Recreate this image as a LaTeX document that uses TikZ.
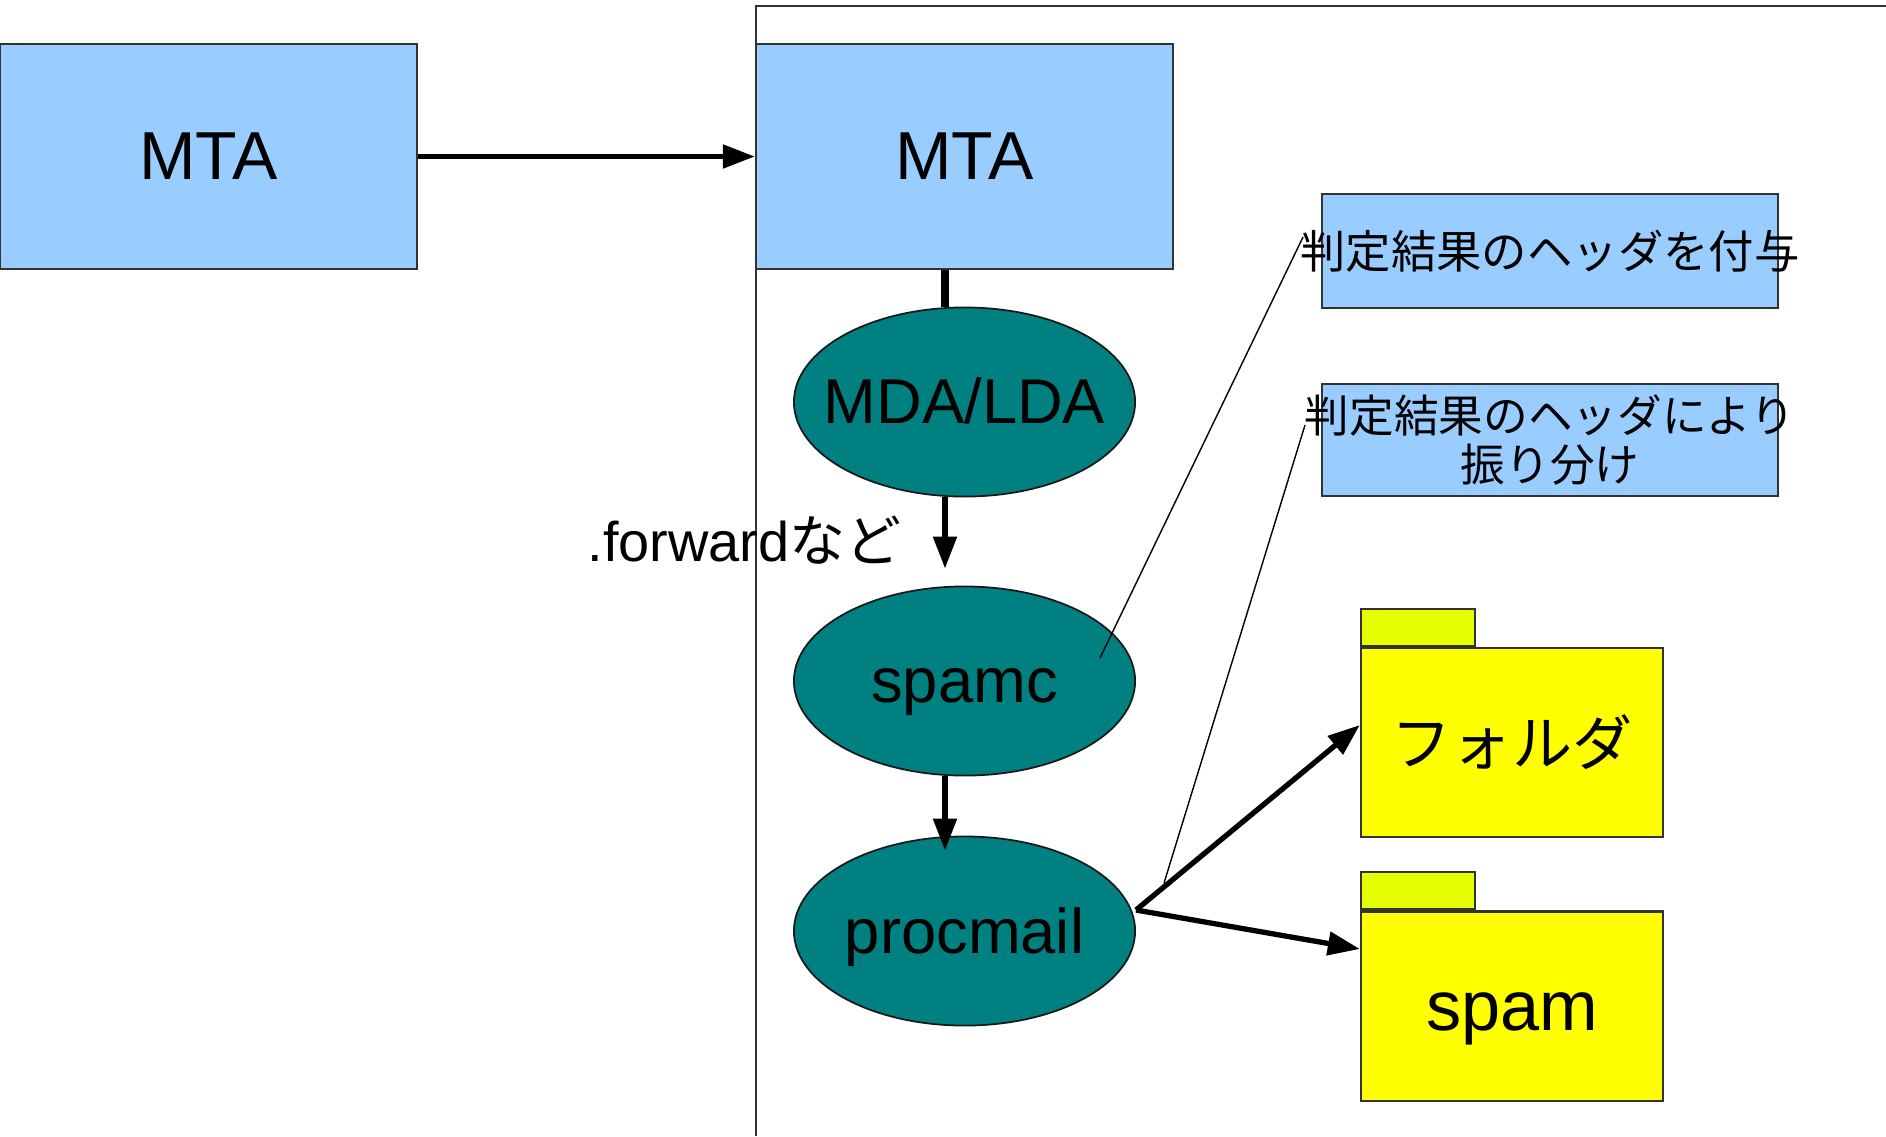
\documentclass[tikz,border=0pt]{standalone}
\usepackage{fontspec}
\setmainfont{Liberation Sans}
\newfontfamily\jpfont{Noto Sans CJK JP}
\usepackage{tikz}
\usetikzlibrary{shapes.geometric,arrows.meta,positioning}
\definecolor{mtablue}{RGB}{153,204,255}
\definecolor{agentteal}{RGB}{0,128,128}
\definecolor{folderyellow}{RGB}{255,255,0}
\definecolor{tabyellow}{RGB}{230,255,0}

\begin{document}
\begin{tikzpicture}[x=0.01cm, y=-0.01cm,
    mtabox/.style={rectangle, draw=black!80, fill=mtablue, line width=0.6pt,
        minimum width=4.17cm, minimum height=2.25cm, inner sep=0pt,
        font=\fontsize{19.3}{23}\selectfont},
    agent/.style={ellipse, draw=black!90, fill=agentteal, line width=0.5pt,
        minimum width=3.41cm, minimum height=1.89cm, inner sep=0pt,
        text height=16.3pt, text depth=3.8pt,
        font=\fontsize{18}{22}\selectfont},
    notebox/.style={rectangle, draw=black!80, fill=mtablue, line width=0.6pt,
        minimum width=4.56cm, minimum height=1.14cm, inner sep=0pt, align=center,
        font=\jpfont\fontsize{12.9}{14.2}\selectfont},
    folderbody/.style={rectangle, draw=black!80, fill=folderyellow, line width=0.6pt,
        minimum width=3.02cm, minimum height=1.89cm, inner sep=0pt},
    foldertab/.style={rectangle, draw=black!80, fill=tabyellow, line width=0.6pt,
        minimum width=1.14cm, minimum height=0.37cm, inner sep=0pt},
    flow/.style={-{Triangle[length=0.32cm,width=0.23cm]}, line width=1.5pt},
    leader/.style={line width=0.4pt}
]
\useasboundingbox (0,0) rectangle (1886,1136);

% server frame
\draw[line width=0.6pt, black!80] (756,1136) -- (756,6) -- (1886,6);

% MTAs
\node[mtabox] (mtaout) at (208.5,156.5) {MTA};
\node[mtabox] (mtain) at (964.5,156.5) {MTA};

% delivery chain
\node[agent] (mda) at (964.5,402) {\makebox[2cm]{MDA/LDA}};
\node[agent] (spamc) at (964.5,681) {spamc};
\node[agent] (procmail) at (964.5,931) {procmail};
\node[font=\fontsize{15.9}{19}\selectfont, anchor=base west, inner sep=0pt]
    (fwd) at (587,561) {.forward{\jpfont など}};

% notes
\node[notebox] (note1) at (1550,251) {\makebox[4.56cm]{判定結果のヘッダを付与}};
\node[notebox, minimum height=1.12cm, font=\jpfont\fontsize{12.7}{14.2}\selectfont]
    (note2) at (1550,440) {\makebox[4.56cm]{判定結果のヘッダにより}\\振り分け};

% folders
\node[folderbody, font=\jpfont\fontsize{17.1}{20}\selectfont] (inbox) at (1512,742.5) {フォルダ};
\node[foldertab, anchor=south west] (inboxtab) at (inbox.north west) {};
\node[folderbody, font=\fontsize{20}{24}\selectfont, text height=18.1pt, text depth=4.2pt]
    (spambox) at (1512,1006) {spam};
\node[foldertab, anchor=south west] (spamtab) at (spambox.north west) {};

% connectors
\draw[flow] (mtaout.east) -- (mtain.west);
\draw[line width=2pt] ([xshift=-0.195cm]mtain.south) -- ([xshift=-0.195cm]mda.north);
\draw[flow] ([xshift=-0.195cm]mda.south) -- ([xshift=-0.195cm,yshift=0.17cm]spamc.north);
\draw[flow] ([xshift=-0.195cm]spamc.south) -- ([xshift=-0.195cm,yshift=-0.15cm]procmail.north);
\draw[flow] ([yshift=0.21cm]procmail.east) -- ([yshift=0.175cm]inbox.west);
\draw[flow] ([yshift=0.21cm]procmail.east) -- ([yshift=0.57cm]spambox.west);

% leader lines
\coordinate (spamcpt) at (1100,658);
\coordinate (procpt) at (1164,883);
\coordinate (note1pt) at (1303,237);
\coordinate (note2pt) at (1305,425);
\draw[leader] (spamcpt) -- (note1pt);
\draw[leader] (procpt) -- (note2pt);
\end{tikzpicture}
\end{document}
